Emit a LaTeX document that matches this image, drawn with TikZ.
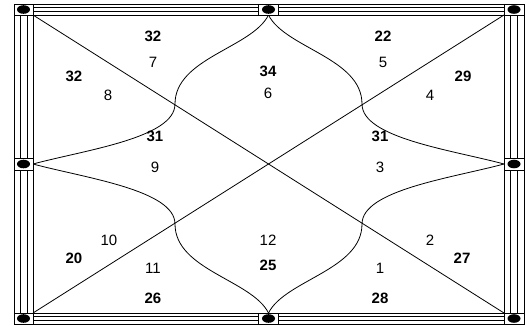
\documentclass[tikz,border=0pt]{standalone}
\usepackage{fontspec}
\setmainfont{Liberation Sans}
\begin{document}
\begin{tikzpicture}[x=1pt,y=-1pt,line width=0.8pt,
  num/.style={font=\fontsize{15}{15}\selectfont},
  bnum/.style={font=\fontsize{15}{15}\selectfont\bfseries},
  framebox/.style={draw,fill=white,line width=0.9pt}]
\useasboundingbox (0,0) rectangle (525,325);
% frame strips
\foreach \x in {14,20.5,27,33,504,510.7,517.3,524} \draw (\x,4) -- (\x,324);
\foreach \y in {4,7.7,11.3,15,313,316.7,320.3,324} \draw (14,\y) -- (524,\y);
% key points
\coordinate (TL) at (33,15);
\coordinate (TR) at (504,15);
\coordinate (BL) at (33,313);
\coordinate (BR) at (504,313);
\coordinate (T) at (268.5,15);
\coordinate (B) at (268.5,313);
\coordinate (L) at (33,164);
\coordinate (R) at (504,164);
\coordinate (P1) at (175,104);
\coordinate (P2) at (362,104);
\coordinate (P3) at (175,224);
\coordinate (P4) at (362,224);
% diagonals
\draw (TL) -- (BR);
\draw (BL) -- (TR);
% curves
\draw (T) .. controls (252,48) and (175,58) .. (P1);
\draw (T) .. controls (285,48) and (362,58) .. (P2);
\draw (B) .. controls (252,280) and (175,270) .. (P3);
\draw (B) .. controls (285,280) and (362,270) .. (P4);
\draw (L) .. controls (85,150) and (175,138) .. (P1);
\draw (L) .. controls (85,178) and (175,190) .. (P3);
\draw (R) .. controls (452,150) and (362,138) .. (P2);
\draw (R) .. controls (452,178) and (362,190) .. (P4);
% boxes with ellipses
\foreach \cx/\cy/\w/\h in {23.5/9.5/19/11, 514/9.5/20/11, 23.5/318.5/19/11, 514/318.5/20/11, 268.5/9.5/20/11, 268.5/318.5/20/11, 23.5/164/19/12, 514/164/20/12}{
  \draw[framebox] (\cx-\w/2,\cy-\h/2) rectangle (\cx+\w/2,\cy+\h/2);
  \fill (\cx,\cy) ellipse (6.5 and 4.3);
}
% labels
\node[bnum] (a1) at (153,36) {32};
\node[num]  (b1) at (153,62) {7};
\node[bnum] (a2) at (74,76) {32};
\node[num]  (b2) at (108,95) {8};
\node[bnum] (a3) at (268,71) {34};
\node[num]  (b3) at (268,93) {6};
\node[bnum] (a4) at (383,36) {22};
\node[num]  (b4) at (383,62) {5};
\node[bnum] (a5) at (463,76) {29};
\node[num]  (b5) at (430,95) {4};
\node[bnum] (a6) at (155,136) {31};
\node[num]  (b6) at (155,167) {9};
\node[bnum] (a7) at (380,136) {31};
\node[num]  (b7) at (380,167) {3};
\node[num]  (b8) at (109,240) {10};
\node[bnum] (a8) at (74,258) {20};
\node[num]  (b9) at (153,268) {11};
\node[bnum] (a9) at (153,298) {26};
\node[num]  (b10) at (268,240) {12};
\node[bnum] (a10) at (268,265) {25};
\node[num]  (b11) at (380,268) {1};
\node[bnum] (a11) at (380,298) {28};
\node[num]  (b12) at (430,240) {2};
\node[bnum] (a12) at (462,258) {27};
\end{tikzpicture}
\end{document}
